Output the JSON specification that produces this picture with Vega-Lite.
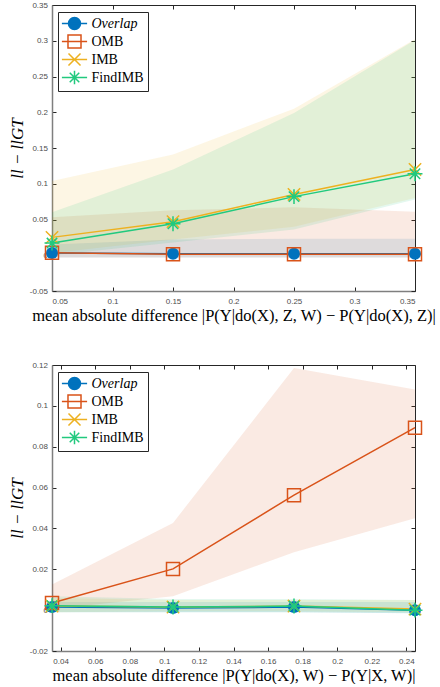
{
  "$schema": "https://vega.github.io/schema/vega-lite/v6.json",
  "padding": {"left": 8, "top": 1, "right": 4, "bottom": 0},
  "spacing": 37,
  "background": "white",
  "datasets": {
    "top": [
      {"x": 0.05, "series": "Overlap", "mean": 0.003, "lo": -0.003, "hi": 0.015},
      {"x": 0.15, "series": "Overlap", "mean": 0.002, "lo": -0.003, "hi": 0.022},
      {"x": 0.25, "series": "Overlap", "mean": 0.002, "lo": -0.003, "hi": 0.023},
      {"x": 0.35, "series": "Overlap", "mean": 0.002, "lo": -0.003, "hi": 0.023},
      {"x": 0.05, "series": "OMB", "mean": 0.0035, "lo": -0.003, "hi": 0.053},
      {"x": 0.15, "series": "OMB", "mean": 0.0015, "lo": -0.003, "hi": 0.063},
      {"x": 0.25, "series": "OMB", "mean": 0.0015, "lo": -0.003, "hi": 0.067},
      {"x": 0.35, "series": "OMB", "mean": 0.0015, "lo": -0.003, "hi": 0.061},
      {"x": 0.05, "series": "IMB", "mean": 0.025, "lo": 0.003, "hi": 0.104},
      {"x": 0.15, "series": "IMB", "mean": 0.047, "lo": 0.022, "hi": 0.141},
      {"x": 0.25, "series": "IMB", "mean": 0.085, "lo": 0.04, "hi": 0.205},
      {"x": 0.35, "series": "IMB", "mean": 0.12, "lo": 0.08, "hi": 0.302},
      {"x": 0.05, "series": "FindIMB", "mean": 0.017, "lo": 0.0, "hi": 0.06},
      {"x": 0.15, "series": "FindIMB", "mean": 0.044, "lo": 0.018, "hi": 0.12},
      {"x": 0.25, "series": "FindIMB", "mean": 0.082, "lo": 0.036, "hi": 0.199},
      {"x": 0.35, "series": "FindIMB", "mean": 0.114, "lo": 0.078, "hi": 0.301}
    ],
    "bottom": [
      {"x": 0.035, "series": "Overlap", "mean": 0.0015, "lo": -0.001, "hi": 0.004},
      {"x": 0.105, "series": "Overlap", "mean": 0.001, "lo": -0.001, "hi": 0.004},
      {"x": 0.175, "series": "Overlap", "mean": 0.0015, "lo": -0.001, "hi": 0.004},
      {"x": 0.245, "series": "Overlap", "mean": 0.0, "lo": -0.0015, "hi": 0.004},
      {"x": 0.035, "series": "OMB", "mean": 0.0035, "lo": 0.0005, "hi": 0.0125},
      {"x": 0.105, "series": "OMB", "mean": 0.0202, "lo": 0.0068, "hi": 0.0427},
      {"x": 0.175, "series": "OMB", "mean": 0.0563, "lo": 0.0283, "hi": 0.1185},
      {"x": 0.245, "series": "OMB", "mean": 0.0893, "lo": 0.045, "hi": 0.108},
      {"x": 0.035, "series": "IMB", "mean": 0.002, "lo": -0.001, "hi": 0.006},
      {"x": 0.105, "series": "IMB", "mean": 0.0015, "lo": -0.0005, "hi": 0.005},
      {"x": 0.175, "series": "IMB", "mean": 0.002, "lo": -0.0005, "hi": 0.005},
      {"x": 0.245, "series": "IMB", "mean": 0.0005, "lo": -0.001, "hi": 0.005},
      {"x": 0.035, "series": "FindIMB", "mean": 0.0022, "lo": -0.001, "hi": 0.0068},
      {"x": 0.105, "series": "FindIMB", "mean": 0.0015, "lo": -0.001, "hi": 0.0055},
      {"x": 0.175, "series": "FindIMB", "mean": 0.002, "lo": -0.001, "hi": 0.0055},
      {"x": 0.245, "series": "FindIMB", "mean": 0.0, "lo": -0.0015, "hi": 0.005}
    ]
  },
  "config": {
    "view": {"stroke": null},
    "axis": {
      "grid": false,
      "labelFont": "Liberation Sans",
      "labelFontSize": 8,
      "labelColor": "#4d4d4d",
      "tickColor": "#262626",
      "tickSize": -4,
      "domainColor": "#262626",
      "titleFont": "Liberation Serif",
      "titleFontWeight": "normal",
      "titleColor": "black"
    },
    "axisBottom": {"labelPadding": 10, "titleFontSize": 16.5, "titlePadding": 2, "domainColor": "#7f7f7f", "domainWidth": 1.5},
    "axisLeft": {"labelPadding": 8.5, "titleFontSize": 17, "titleFontStyle": "italic", "titlePadding": 3, "domainColor": "#7f7f7f", "domainWidth": 1.5},
    "legend": {
      "orient": "none", "legendX": 6, "legendY": 7, "title": null, "padding": 3.5,
      "strokeColor": "#262626", "fillColor": "white", "cornerRadius": 0,
      "symbolSize": 196, "symbolStrokeWidth": 1.5, "labelOffset": 14, "rowPadding": -2.5,
      "labelFont": "Liberation Serif", "labelFontSize": 14, "labelColor": "black"
    }
  },
  "resolve": {"scale": {"color": "independent", "fill": "independent", "shape": "independent", "x": "independent", "y": "independent"}, "legend": {"color": "independent"}},
  "vconcat": [
    {
      "width": 363,
      "height": 286,
      "data": {"name": "top"},
      "resolve": {"axis": {"x": "independent", "y": "independent"}},
      "layer": [
        {
          "mark": {"type": "area", "opacity": 0.12},
          "encoding": {
            "x": {"field": "x", "type": "quantitative", "scale": {"domain": [0.05, 0.35], "nice": false, "zero": false},
              "axis": {"orient": "bottom", "values": [0.05, 0.1, 0.15, 0.2, 0.25, 0.3, 0.35], "format": "~f", "labelExpr": "replace(datum.label, '\u2212', '-')", "title": "mean absolute difference |P(Y|do(X), Z, W) \u2212 P(Y|do(X), Z)|"}},
            "y": {"field": "lo", "type": "quantitative", "scale": {"domain": [-0.05, 0.35], "nice": false, "zero": false},
              "axis": {"orient": "left", "values": [-0.05, 0, 0.05, 0.1, 0.15, 0.2, 0.25, 0.3, 0.35], "format": "~f", "labelExpr": "replace(datum.label, '\u2212', '-')", "title": "ll \u2212 llGT"}},
            "y2": {"field": "hi"},
            "fill": {"field": "series", "type": "nominal", "scale": {"domain": ["FindIMB", "IMB", "OMB", "Overlap"], "range": ["#21C97E", "#EDB120", "#D95319", "#0072BD"]}, "legend": null}
          }
        },
        {
          "mark": {"type": "line", "strokeWidth": 1.5},
          "encoding": {
            "x": {"field": "x", "type": "quantitative", "scale": {"domain": [0.05, 0.35], "nice": false, "zero": false},
              "axis": {"orient": "top", "values": [0.05, 0.1, 0.15, 0.2, 0.25, 0.3, 0.35], "labels": false, "title": null}},
            "y": {"field": "mean", "type": "quantitative", "scale": {"domain": [-0.05, 0.35], "nice": false, "zero": false},
              "axis": {"orient": "right", "values": [-0.05, 0, 0.05, 0.1, 0.15, 0.2, 0.25, 0.3, 0.35], "labels": false, "title": null}},
            "color": {"field": "series", "type": "nominal", "scale": {"domain": ["Overlap", "OMB", "IMB", "FindIMB"], "range": ["#0072BD", "#D95319", "#EDB120", "#21C97E"]},
              "legend": {
                "orient": "none", "legendX": 6, "legendY": 7, "title": null,
                "encode": {
                  "symbols": {"update": {
                    "shape": {"signal": "datum.value === 'Overlap' ? 'M-1.8,0H1.8M0.86,0A0.86,0.86 0 1,1 -0.86,0A0.86,0.86 0 1,1 0.86,0Z' : datum.value === 'OMB' ? 'M-1.8,0H1.8M-0.93,-0.93H0.93V0.93H-0.93Z' : datum.value === 'IMB' ? 'M-1.8,0H1.8M-0.86,-0.86L0.86,0.86M-0.86,0.86L0.86,-0.86' : 'M-1.8,0H1.8M0,-0.95V0.95M-0.68,-0.68L0.68,0.68M-0.68,0.68L0.68,-0.68'"},
                    "fill": {"signal": "datum.value === 'Overlap' ? '#0072BD' : 'transparent'"},
                    "fillOpacity": {"signal": "datum.value === 'Overlap' ? 1 : 0"},
                    "x": {"value": 13},
                    "size": {"value": 196},
                    "strokeWidth": {"value": 1.5},
                    "opacity": {"value": 1}
                  }},
                  "labels": {"update": {"fontStyle": {"signal": "datum.value === 'Overlap' ? 'italic' : 'normal'"}}}
                }
              }}
          }
        },
        {
          "transform": [{"filter": "datum.series === 'Overlap'"}],
          "mark": {"type": "point", "shape": "circle", "filled": true, "size": 144, "opacity": 1, "color": "#0072BD"},
          "encoding": {
            "x": {"field": "x", "type": "quantitative", "scale": {"domain": [0.05, 0.35], "nice": false, "zero": false}, "axis": null},
            "y": {"field": "mean", "type": "quantitative", "scale": {"domain": [-0.05, 0.35], "nice": false, "zero": false}, "axis": null}
          }
        },
        {
          "transform": [{"filter": "datum.series !== 'Overlap'"}],
          "mark": {"type": "point", "filled": false, "size": 169, "opacity": 1, "strokeWidth": 1.5},
          "encoding": {
            "x": {"field": "x", "type": "quantitative", "scale": {"domain": [0.05, 0.35], "nice": false, "zero": false}, "axis": null},
            "y": {"field": "mean", "type": "quantitative", "scale": {"domain": [-0.05, 0.35], "nice": false, "zero": false}, "axis": null},
            "color": {"field": "series", "type": "nominal", "scale": {"domain": ["Overlap", "OMB", "IMB", "FindIMB"], "range": ["#0072BD", "#D95319", "#EDB120", "#21C97E"]}},
            "shape": {"field": "series", "type": "nominal", "scale": {"domain": ["OMB", "IMB", "FindIMB"], "range": ["square", "M-0.95,-0.95L0.95,0.95M-0.95,0.95L0.95,-0.95", "M0,-1.15V1.15M-1.15,0H1.15M-0.8,-0.8L0.8,0.8M-0.8,0.8L0.8,-0.8"]}, "legend": null}
          }
        }
      ]
    },
    {
      "width": 363,
      "height": 286,
      "data": {"name": "bottom"},
      "resolve": {"axis": {"x": "independent", "y": "independent"}},
      "layer": [
        {
          "mark": {"type": "area", "opacity": 0.12},
          "encoding": {
            "x": {"field": "x", "type": "quantitative", "scale": {"domain": [0.035, 0.245], "nice": false, "zero": false},
              "axis": {"orient": "bottom", "values": [0.04, 0.06, 0.08, 0.1, 0.12, 0.14, 0.16, 0.18, 0.2, 0.22, 0.24], "format": "~f", "labelExpr": "replace(datum.label, '\u2212', '-')", "title": "mean absolute difference |P(Y|do(X), W) \u2212 P(Y|X, W)|"}},
            "y": {"field": "lo", "type": "quantitative", "scale": {"domain": [-0.02, 0.12], "nice": false, "zero": false},
              "axis": {"orient": "left", "values": [-0.02, 0, 0.02, 0.04, 0.06, 0.08, 0.1, 0.12], "format": "~f", "labelExpr": "replace(datum.label, '\u2212', '-')", "title": "ll \u2212 llGT"}},
            "y2": {"field": "hi"},
            "fill": {"field": "series", "type": "nominal", "scale": {"domain": ["FindIMB", "IMB", "OMB", "Overlap"], "range": ["#21C97E", "#EDB120", "#D95319", "#0072BD"]}, "legend": null}
          }
        },
        {
          "mark": {"type": "line", "strokeWidth": 1.5},
          "encoding": {
            "x": {"field": "x", "type": "quantitative", "scale": {"domain": [0.035, 0.245], "nice": false, "zero": false},
              "axis": {"orient": "top", "values": [0.04, 0.06, 0.08, 0.1, 0.12, 0.14, 0.16, 0.18, 0.2, 0.22, 0.24], "labels": false, "title": null}},
            "y": {"field": "mean", "type": "quantitative", "scale": {"domain": [-0.02, 0.12], "nice": false, "zero": false},
              "axis": {"orient": "right", "values": [-0.02, 0, 0.02, 0.04, 0.06, 0.08, 0.1, 0.12], "labels": false, "title": null}},
            "color": {"field": "series", "type": "nominal", "scale": {"domain": ["Overlap", "OMB", "IMB", "FindIMB"], "range": ["#0072BD", "#D95319", "#EDB120", "#21C97E"]},
              "legend": {
                "orient": "none", "legendX": 6, "legendY": 7, "title": null,
                "encode": {
                  "symbols": {"update": {
                    "shape": {"signal": "datum.value === 'Overlap' ? 'M-1.8,0H1.8M0.86,0A0.86,0.86 0 1,1 -0.86,0A0.86,0.86 0 1,1 0.86,0Z' : datum.value === 'OMB' ? 'M-1.8,0H1.8M-0.93,-0.93H0.93V0.93H-0.93Z' : datum.value === 'IMB' ? 'M-1.8,0H1.8M-0.86,-0.86L0.86,0.86M-0.86,0.86L0.86,-0.86' : 'M-1.8,0H1.8M0,-0.95V0.95M-0.68,-0.68L0.68,0.68M-0.68,0.68L0.68,-0.68'"},
                    "fill": {"signal": "datum.value === 'Overlap' ? '#0072BD' : 'transparent'"},
                    "fillOpacity": {"signal": "datum.value === 'Overlap' ? 1 : 0"},
                    "x": {"value": 13},
                    "size": {"value": 196},
                    "strokeWidth": {"value": 1.5},
                    "opacity": {"value": 1}
                  }},
                  "labels": {"update": {"fontStyle": {"signal": "datum.value === 'Overlap' ? 'italic' : 'normal'"}}}
                }
              }}
          }
        },
        {
          "transform": [{"filter": "datum.series === 'Overlap'"}],
          "mark": {"type": "point", "shape": "circle", "filled": true, "size": 144, "opacity": 1, "color": "#0072BD"},
          "encoding": {
            "x": {"field": "x", "type": "quantitative", "scale": {"domain": [0.035, 0.245], "nice": false, "zero": false}, "axis": null},
            "y": {"field": "mean", "type": "quantitative", "scale": {"domain": [-0.02, 0.12], "nice": false, "zero": false}, "axis": null}
          }
        },
        {
          "transform": [{"filter": "datum.series !== 'Overlap'"}],
          "mark": {"type": "point", "filled": false, "size": 169, "opacity": 1, "strokeWidth": 1.5},
          "encoding": {
            "x": {"field": "x", "type": "quantitative", "scale": {"domain": [0.035, 0.245], "nice": false, "zero": false}, "axis": null},
            "y": {"field": "mean", "type": "quantitative", "scale": {"domain": [-0.02, 0.12], "nice": false, "zero": false}, "axis": null},
            "color": {"field": "series", "type": "nominal", "scale": {"domain": ["Overlap", "OMB", "IMB", "FindIMB"], "range": ["#0072BD", "#D95319", "#EDB120", "#21C97E"]}},
            "shape": {"field": "series", "type": "nominal", "scale": {"domain": ["OMB", "IMB", "FindIMB"], "range": ["square", "M-0.95,-0.95L0.95,0.95M-0.95,0.95L0.95,-0.95", "M0,-1.15V1.15M-1.15,0H1.15M-0.8,-0.8L0.8,0.8M-0.8,0.8L0.8,-0.8"]}, "legend": null}
          }
        }
      ]
    }
  ]
}
